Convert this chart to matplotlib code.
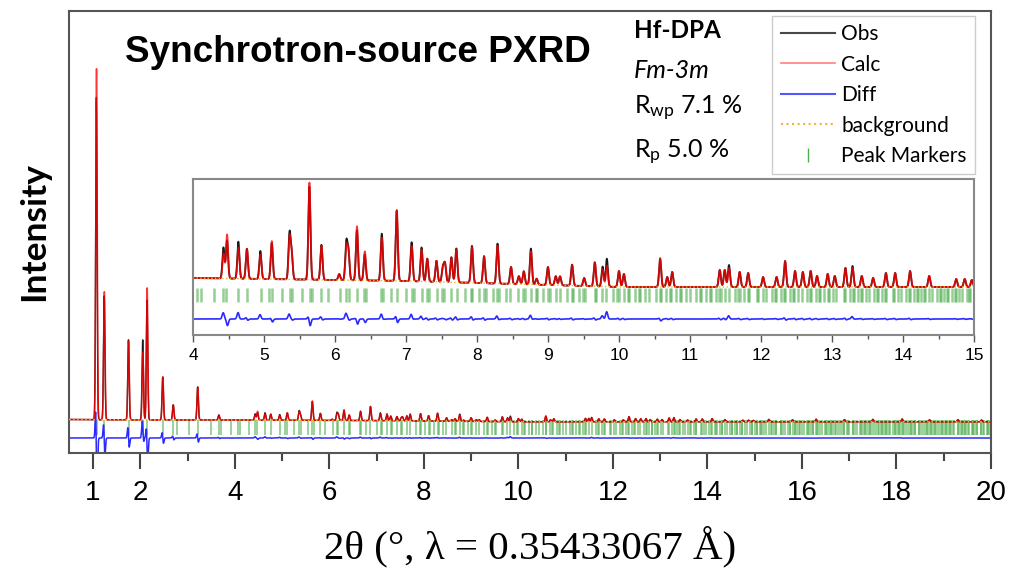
import numpy as np
import matplotlib
matplotlib.use("Agg")
from matplotlib import pyplot as plt
from matplotlib.lines import Line2D
from matplotlib.ticker import FixedLocator

plt.rcParams["font.family"] = "Liberation Sans"
plt.rcParams["mathtext.fontset"] = "custom"
plt.rcParams["mathtext.rm"] = "Lato"
plt.rcParams["mathtext.it"] = "Lato:italic"

# Refinement info
WAVELENGTH = 0.35433067  # A
CELL_A = 32.80  # A, cubic Fm-3m
FWHM = 0.035  # deg
OBS_SHIFT_LOW = -0.003  # deg, offset of observed peaks below 4 deg
OBS_SHIFT_HIGH = -0.001  # deg, above 4 deg

# Peaks (2theta in deg, heights in counts)
peak_pos = [1.072, 1.238, 1.751, 2.053, 2.144, 2.476, 2.698, 3.215, 3.663,
            4.43, 4.48, 4.64, 4.76, 4.95, 5.11, 5.36, 5.39, 5.64, 5.81,
            6.06, 6.16, 6.19, 6.31, 6.42, 6.66, 6.87, 7.08, 7.22, 7.30,
            7.43, 7.52, 7.55, 7.64, 7.71, 7.93, 8.10, 8.29, 8.48, 8.59,
            8.66, 8.76, 8.84, 9.00, 9.11, 9.17, 9.34, 9.51, 9.66, 9.77,
            9.83, 10.00, 10.07, 10.58, 10.68, 10.75, 11.42, 11.49, 11.55, 11.70,
            11.82, 12.03, 12.22, 12.34, 12.48, 12.59, 12.70, 12.79, 12.94, 13.04,
            13.19, 13.29, 13.42, 13.58, 13.76, 13.89, 14.10, 14.37, 14.75, 14.87,
            14.97, 15.30, 15.80, 16.30, 16.90, 17.50, 18.12, 18.70, 19.30, 19.80]
calc_height = [3510, 1280, 790, 680, 1320, 430, 150, 330, 50,
               50, 88, 62, 60, 48, 76, 82, 50, 194, 68,
               12, 64, 56, 108, 58, 86, 142, 70, 64, 46,
               42, 28, 36, 50, 66, 72, 54, 76, 34, 16,
               26, 66, 12, 36, 18, 18, 42, 16, 48, 34,
               42, 32, 26, 58, 20, 30, 34, 34, 38, 30,
               28, 20, 20, 52, 32, 30, 32, 22, 26, 22,
               38, 38, 22, 18, 28, 28, 32, 22, 16, 16,
               14, 24, 20, 26, 22, 24, 28, 20, 22, 18]
obs_height = [3230, 1240, 800, 800, 1200, 430, 150, 330, 50,
              62, 76, 74, 60, 56, 72, 90, 50, 186, 70,
              12, 74, 56, 100, 52, 94, 140, 78, 68, 46,
              42, 28, 36, 50, 68, 74, 54, 80, 34, 16,
              26, 72, 12, 36, 18, 18, 42, 16, 48, 40,
              56, 32, 26, 56, 20, 30, 34, 34, 44, 30,
              28, 20, 20, 52, 32, 30, 32, 22, 26, 22,
              38, 42, 22, 18, 28, 28, 32, 22, 16, 16,
              14, 24, 20, 26, 22, 24, 28, 20, 22, 18]

# Background knots (2theta, counts)
bg_pos = [0.49, 1.0, 2.0, 4.0, 5.0, 6.0, 7.0, 8.0, 9.0, 10.0, 20.0]
bg_counts = [335, 333, 331, 330, 328, 326, 324, 320, 316, 312, 312]

main_ticks = [1, 2, 4, 6, 8, 10, 12, 14, 16, 18, 20]
main_minor = [3, 5, 7, 9, 11, 13, 15, 17, 19]
inset_ticks = list(range(4, 16))

# Profiles
tt = np.arange(0.49, 20.0005, 0.002)
sig = FWHM / 2.3548
bg = np.interp(tt, bg_pos, bg_counts)
calc = bg.copy()
obs = bg.copy()
for p, hc, ho in zip(peak_pos, calc_height, obs_height):
    shift = OBS_SHIFT_LOW if p < 4 else OBS_SHIFT_HIGH
    calc += hc * np.exp(-0.5 * ((tt - p) / sig) ** 2)
    obs += ho * np.exp(-0.5 * ((tt - p - shift) / sig) ** 2)
diff = obs - calc

# Bragg positions for the F-centred cubic cell
n_vals = sorted({h * h + k * k + l * l
                 for h in range(45) for k in range(h + 1) for l in range(k + 1)
                 if h % 2 == k % 2 == l % 2 and h + k + l > 0})
n_vals = np.array(n_vals, dtype=float)
s = WAVELENGTH * np.sqrt(n_vals) / (2 * CELL_A)
markers = 2 * np.degrees(np.arcsin(s[s < 1]))
markers = markers[(markers > 0.49) & (markers < 20)]

c_obs = "#1a1a1a"
c_calc = "red"
c_diff = "#2a2aff"
c_bg = "#f2b23a"
c_mark = "#4cae4c"
spine_c = "#555555"

fig = plt.figure(figsize=(10.09, 5.74), dpi=100)
ax = fig.add_axes([69 / 1009, 1 - 453 / 574, 922 / 1009, 442 / 574])

ax.plot(tt, obs, color=c_obs, lw=1.0, zorder=2)
ax.plot(tt, calc, color=c_calc, lw=1.1, alpha=0.8, zorder=3)
ax.plot(tt, diff + 150, color=c_diff, lw=1.1, zorder=2)
ax.plot(tt, bg, color=c_bg, lw=1.1, ls=":", zorder=4)
ax.vlines(markers, 180, 330, color=c_mark, lw=1.3, alpha=0.6, zorder=1)

ax.set_xlim(0.49, 20.0)
ax.set_ylim(0, 4420)
ax.set_yticks([])
ax.xaxis.set_major_locator(FixedLocator(main_ticks))
ax.xaxis.set_minor_locator(FixedLocator(main_minor))
ax.tick_params(axis="x", which="major", direction="out", length=11.5, width=1.5,
               color="#444444", labelsize=20, pad=8)
ax.tick_params(axis="x", which="minor", direction="out", length=5.5, width=1.5,
               color="#444444")
for sp in ax.spines.values():
    sp.set_color(spine_c)
    sp.set_linewidth(1.5)

ax.set_xlabel("2θ (°, λ = 0.35433067 Å)", family="Liberation Serif", fontsize=29.5,
              labelpad=14)

fig.text(34 / 1009, 1 - 232 / 574, "Intensity", rotation=90, ha="center",
         va="center", family="Lato", weight="bold", fontsize=25.5)
fig.text(125 / 1009, 1 - 62 / 574, "Synchrotron-source PXRD", weight="bold",
         fontsize=26.6, va="baseline")

fig.text(634 / 1009, 1 - 38 / 574, "Hf-DPA", family="Lato", weight="bold",
         fontsize=17.5, va="baseline")
fig.text(634 / 1009, 1 - 78 / 574, "Fm-3m", family="Lato", style="italic",
         fontsize=18, va="baseline")
fig.text(634 / 1009, 1 - 114 / 574, r"R$_{\mathrm{wp}}$ 7.1 %", family="Lato",
         fontsize=18, va="baseline")
fig.text(634 / 1009, 1 - 158 / 574, r"R$_{\mathrm{p}}$ 5.0 %", family="Lato",
         fontsize=18, va="baseline")

handles = [
    Line2D([], [], color=c_obs, lw=1.5, alpha=0.8),
    Line2D([], [], color=c_calc, lw=1.2, alpha=0.5),
    Line2D([], [], color=c_diff, lw=1.5, alpha=0.8),
    Line2D([], [], color=c_bg, lw=1.5, ls=":"),
    Line2D([], [], color=c_mark, ls="none", marker="|", markersize=10),
]
labels = ["Obs", "Calc", "Diff", "background", "Peak Markers"]
leg = ax.legend(handles, labels, loc="upper right",
                bbox_to_anchor=(975 / 1009, 1 - 16 / 574),
                bbox_transform=fig.transFigure, borderaxespad=0,
                prop={"family": "Lato", "size": 15}, handlelength=2.6,
                handletextpad=0.3, borderpad=0.4, labelspacing=0.5,
                fancybox=False, framealpha=1, edgecolor="#cccccc")
leg.get_frame().set_linewidth(1.0)

# Inset, 4-15 deg
axi = fig.add_axes([193 / 1009, 1 - 335 / 574, 781 / 1009, 156 / 574])
axi.set_zorder(5)
sel = (tt >= 3.95) & (tt <= 15.05)
axi.plot(tt[sel], obs[sel] / 2 - 108, color=c_obs, lw=1.3)
axi.plot(tt[sel], calc[sel] / 2 - 108, color=c_calc, lw=1.3, alpha=0.8)
axi.plot(tt[sel], bg[sel] / 2 - 108, color=c_bg, lw=1.0, ls=":")
axi.plot(tt[sel], diff[sel] / 2 + 16, color=c_diff, lw=1.2)
m_in = markers[(markers > 4) & (markers < 15)]
axi.vlines(m_in, 33, 47, color=c_mark, lw=1.8, alpha=0.6)
axi.set_xlim(4, 15)
axi.set_ylim(0, 156)
axi.set_yticks([])
axi.xaxis.set_major_locator(FixedLocator(inset_ticks))
axi.xaxis.set_minor_locator(FixedLocator([t + 0.5 for t in inset_ticks[:-1]]))
axi.tick_params(axis="x", which="major", direction="out", length=5, width=1.0,
                color="#555555", labelsize=12.5, pad=4)
axi.tick_params(axis="x", which="minor", direction="out", length=3, width=1.0,
                color="#555555")
for sp in axi.spines.values():
    sp.set_color("#888888")
    sp.set_linewidth(1.5)

fig.savefig("out.png", dpi=100)
